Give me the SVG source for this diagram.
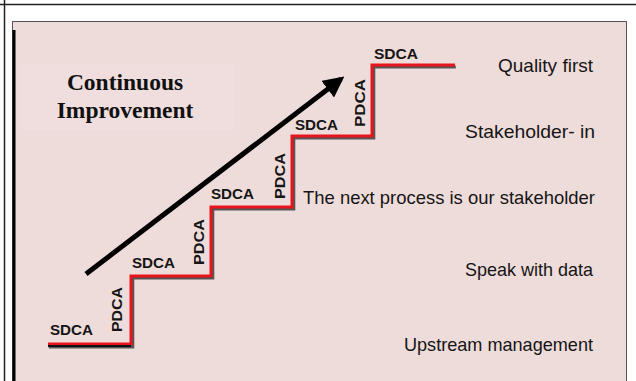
<svg xmlns="http://www.w3.org/2000/svg" width="636" height="381" viewBox="0 0 636 381">
<defs>
<style>
.lbl{font-family:"Liberation Sans",Arial,sans-serif;font-size:15.5px;font-weight:bold;fill:#151515}
.rt{font-family:"Liberation Sans",Arial,sans-serif;font-size:18.5px;fill:#151515;text-anchor:end}
.title{font-family:"Liberation Serif","Times New Roman",serif;font-size:23.5px;font-weight:bold;fill:#111;text-anchor:middle}
.step{fill:none;stroke:#e8141b;stroke-width:3;stroke-linejoin:miter}
.shadow{fill:none;stroke:#555;stroke-width:3;stroke-linejoin:miter}
</style>
<marker id="ah" viewBox="0 0 10 10" refX="8" refY="5" markerWidth="4.2" markerHeight="4.2" orient="auto" markerUnits="strokeWidth">
<path d="M0,0 L10,5 L0,10 z" fill="#000"/>
</marker>
</defs>
<g id="frame">
<line x1="0" y1="4.5" x2="636" y2="4.5" stroke="#222" stroke-width="1.5"/>
<line x1="4.5" y1="0" x2="4.5" y2="381" stroke="#222" stroke-width="1.5"/>
<rect x="12.5" y="21.5" width="614" height="370" fill="#eedcda" stroke="#555" stroke-width="1"/>
<line x1="14" y1="30" x2="14" y2="381" stroke="#000" stroke-width="3"/>
<rect x="20" y="64" width="215" height="66" fill="#efdedd"/>
</g>
<g id="title">
<text class="title" x="125" y="90">Continuous</text>
<text class="title" x="125" y="118">Improvement</text>
</g>
<g id="connectors">
<polyline class="shadow" points="48,346 132,346 132,277 212,277 212,208 293,208 293,137 373,137 373,66 455,66" transform="translate(0.8,1)"/>
<polyline class="step" points="48,344 131,344 131,276 211,276 211,207 292,207 292,136 372,136 372,65 455,65"/>
<line x1="48" y1="346" x2="131" y2="346" stroke="#111" stroke-width="2"/>
<line x1="86" y1="274" x2="341" y2="79" stroke="#000" stroke-width="5" marker-end="url(#ah)"/>
</g>
<g id="sdca-labels">
<text class="lbl" x="50" y="335" textLength="43" lengthAdjust="spacingAndGlyphs">SDCA</text>
<text class="lbl" x="132" y="268" textLength="43" lengthAdjust="spacingAndGlyphs">SDCA</text>
<text class="lbl" x="211" y="199" textLength="43" lengthAdjust="spacingAndGlyphs">SDCA</text>
<text class="lbl" x="295" y="130" textLength="43" lengthAdjust="spacingAndGlyphs">SDCA</text>
<text class="lbl" x="374" y="59" textLength="44" lengthAdjust="spacingAndGlyphs">SDCA</text>
</g>
<g id="pdca-labels">
<text class="lbl" transform="translate(122,332) rotate(-90)" textLength="45" lengthAdjust="spacingAndGlyphs">PDCA</text>
<text class="lbl" transform="translate(204,265) rotate(-90)" textLength="46" lengthAdjust="spacingAndGlyphs">PDCA</text>
<text class="lbl" transform="translate(285,199) rotate(-90)" textLength="46" lengthAdjust="spacingAndGlyphs">PDCA</text>
<text class="lbl" transform="translate(365,127) rotate(-90)" textLength="48" lengthAdjust="spacingAndGlyphs">PDCA</text>
</g>
<g id="principles">
<text class="rt" x="593" y="72" textLength="95" lengthAdjust="spacingAndGlyphs">Quality first</text>
<text class="rt" x="595" y="138" textLength="130" lengthAdjust="spacingAndGlyphs">Stakeholder- in</text>
<text class="rt" x="595" y="204" textLength="292" lengthAdjust="spacingAndGlyphs">The next process is our stakeholder</text>
<text class="rt" x="593" y="276" textLength="128" lengthAdjust="spacingAndGlyphs">Speak with data</text>
<text class="rt" x="593" y="351" textLength="189" lengthAdjust="spacingAndGlyphs">Upstream management</text>
</g>
</svg>
